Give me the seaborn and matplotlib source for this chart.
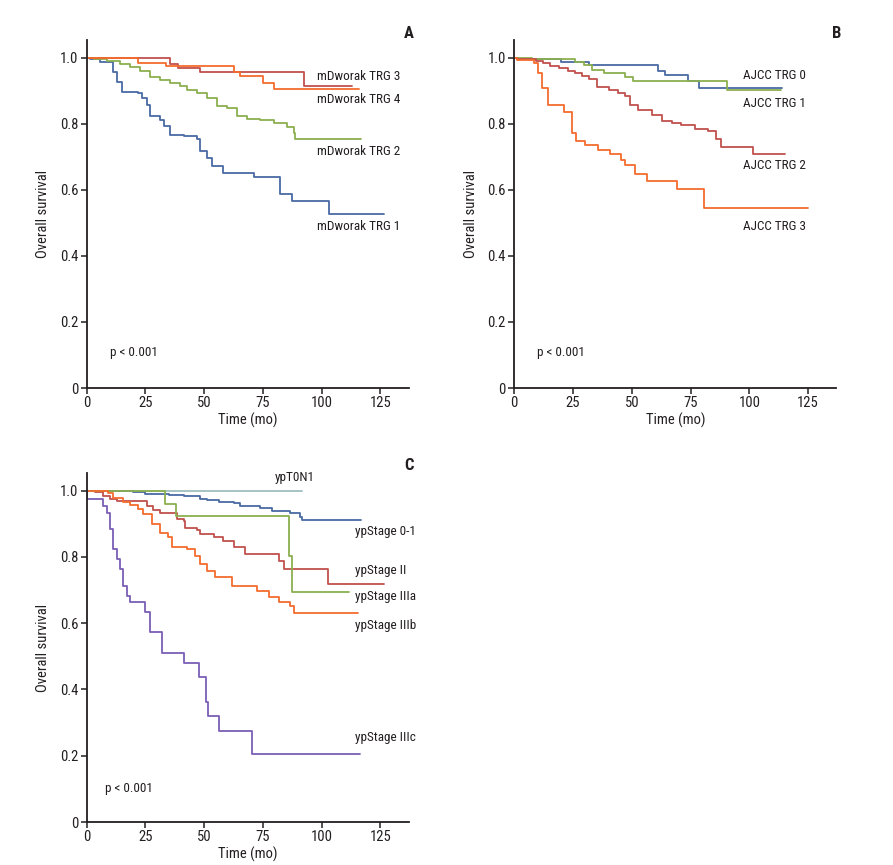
import pandas as pd
import seaborn as sns
import matplotlib.pyplot as plt

# panel A - modified Dworak TRG
a_trg1_t = [0, 1.4, 5.7, 11.4, 12.8, 14.9, 22.0, 23.4, 25.6, 27.0, 31.3, 32.7, 35.5, 41.2, 46.9, 48.3, 51.1, 53.3, 58.2, 71.0, 82.4, 87.4, 103.0, 126.7]
a_trg1_s = [1.0, 0.997, 0.987, 0.957, 0.927, 0.897, 0.892, 0.877, 0.857, 0.822, 0.812, 0.792, 0.767, 0.762, 0.752, 0.717, 0.697, 0.672, 0.652, 0.637, 0.587, 0.567, 0.527, 0.527]
a_trg2_t = [0, 3.0, 8.5, 14.2, 18.5, 22.7, 27.0, 31.3, 35.5, 39.8, 42.6, 46.9, 51.1, 55.4, 59.7, 63.9, 68.2, 73.9, 79.5, 85.2, 88.0, 88.8, 116.8]
a_trg2_s = [1.0, 0.997, 0.99, 0.98, 0.972, 0.96, 0.942, 0.932, 0.922, 0.914, 0.902, 0.894, 0.877, 0.854, 0.847, 0.822, 0.814, 0.81, 0.802, 0.79, 0.772, 0.754, 0.754]
a_trg3_t = [0, 35.5, 39.0, 48.3, 92.3, 112.9]
a_trg3_s = [1.0, 0.98, 0.967, 0.955, 0.915, 0.915]
a_trg4_t = [0, 22.0, 33.7, 62.5, 65.3, 75.0, 79.5, 115.8]
a_trg4_s = [1.0, 0.984, 0.974, 0.957, 0.944, 0.922, 0.905, 0.905]

# panel B - AJCC TRG
b_trg0_t = [0, 1.0, 19.7, 31.7, 61.3, 64.1, 73.7, 78.6, 114.0]
b_trg0_s = [1.0, 0.994, 0.985, 0.977, 0.96, 0.947, 0.93, 0.907, 0.907]
b_trg1_t = [0, 7.7, 26.0, 29.6, 33.0, 38.0, 47.2, 50.7, 90.6, 113.4]
b_trg1_s = [1.0, 0.994, 0.985, 0.977, 0.962, 0.952, 0.94, 0.93, 0.902, 0.902]
b_trg2_t = [0, 1.0, 9.2, 12.0, 15.0, 19.0, 23.0, 26.0, 29.0, 31.7, 35.2, 40.1, 44.0, 47.2, 49.3, 52.8, 58.5, 62.7, 67.0, 71.1, 76.8, 82.4, 85.9, 88.0, 101.4, 115.1]
b_trg2_s = [1.0, 0.994, 0.99, 0.982, 0.975, 0.967, 0.96, 0.952, 0.944, 0.934, 0.912, 0.902, 0.894, 0.884, 0.857, 0.842, 0.827, 0.807, 0.802, 0.797, 0.784, 0.777, 0.752, 0.73, 0.707, 0.707]
b_trg3_t = [0, 1.0, 8.5, 9.9, 11.7, 14.5, 21.1, 24.6, 26.3, 30.0, 35.6, 40.8, 45.5, 47.2, 51.4, 56.3, 69.4, 80.7, 124.9]
b_trg3_s = [1.0, 0.992, 0.982, 0.952, 0.907, 0.857, 0.834, 0.772, 0.747, 0.734, 0.72, 0.707, 0.69, 0.674, 0.647, 0.627, 0.602, 0.544, 0.544]

# panel C - ypStage
c_t0n1_t = [0, 91.6]
c_t0n1_s = [1.0, 1.0]
c_st01_t = [0, 19.9, 24.9, 35.0, 41.2, 48.3, 51.1, 56.1, 62.5, 65.3, 73.9, 78.8, 86.6, 90.9, 91.6, 116.8]
c_st01_s = [1.0, 0.996, 0.99, 0.986, 0.983, 0.975, 0.971, 0.966, 0.961, 0.953, 0.948, 0.938, 0.933, 0.921, 0.91, 0.91]
c_st2_t = [0, 3.6, 7.1, 9.9, 12.8, 25.6, 28.4, 31.3, 38.4, 41.2, 41.9, 46.9, 48.3, 54.0, 58.2, 62.5, 67.5, 81.7, 83.8, 102.6, 126.4]
c_st2_s = [1.0, 0.996, 0.985, 0.975, 0.968, 0.953, 0.941, 0.933, 0.915, 0.908, 0.888, 0.881, 0.868, 0.861, 0.848, 0.831, 0.808, 0.788, 0.763, 0.718, 0.718]
c_st3a_t = [0, 33.4, 38.1, 85.9, 87.4, 111.5]
c_st3a_s = [1.0, 0.96, 0.923, 0.803, 0.693, 0.693]
c_st3b_t = [0, 9.2, 11.4, 15.6, 18.5, 22.0, 24.1, 27.7, 31.3, 34.8, 36.2, 42.6, 46.2, 48.3, 51.1, 54.7, 61.8, 72.4, 77.4, 81.7, 86.6, 88.1, 115.3]
c_st3b_s = [1.0, 0.994, 0.978, 0.965, 0.955, 0.943, 0.928, 0.898, 0.873, 0.861, 0.831, 0.823, 0.803, 0.778, 0.758, 0.738, 0.713, 0.698, 0.678, 0.663, 0.653, 0.631, 0.631]
c_st3c_t = [0, 0.3, 7.1, 8.5, 9.9, 11.4, 12.8, 14.2, 15.3, 17.0, 18.5, 24.9, 27.0, 32.0, 41.2, 47.9, 50.9, 51.8, 56.1, 70.3, 116.2]
c_st3c_s = [1.0, 0.975, 0.953, 0.933, 0.883, 0.823, 0.793, 0.763, 0.713, 0.683, 0.663, 0.633, 0.573, 0.51, 0.48, 0.438, 0.363, 0.321, 0.276, 0.206, 0.206]

BLUE = "#4a6aa5"
GREEN = "#8bb04f"
BRICK = "#c0504d"
ORANGE = "#f36c2d"
PURPLE = "#7b5fb5"
TEAL = "#9ebfbf"
INK = "#231f20"

sns.set_style("ticks")
plt.rcParams['font.family'] = ['Roboto Condensed', 'Liberation Sans', 'DejaVu Sans']
plt.rcParams['axes.linewidth'] = 1.3
plt.rcParams['axes.edgecolor'] = INK
plt.rcParams['xtick.major.width'] = 1.1
plt.rcParams['ytick.major.width'] = 1.1
plt.rcParams['xtick.major.size'] = 4
plt.rcParams['ytick.major.size'] = 4


def make_df(curves):
    rows = []
    for name, t, s in curves:
        for ti, si in zip(t, s):
            rows.append([name, ti, si])
    return pd.DataFrame(rows, columns=["grupo", "tempo", "sobrevida"])


def draw_panel(ax, curves, palette, labels, p_pos):
    df = make_df(curves)
    sns.lineplot(data=df, x="tempo", y="sobrevida", hue="grupo", palette=palette,
                 estimator=None, sort=False, drawstyle="steps-post", linewidth=1.3,
                 legend=False, ax=ax)
    ax.set_xlim(0, 137)
    ax.set_ylim(0, 1.053)
    ax.set_xticks([0, 25, 50, 75, 100, 125])
    ax.set_yticks([0, 0.2, 0.4, 0.6, 0.8, 1.0])
    ax.set_yticklabels(["0", "0.2", "0.4", "0.6", "0.8", "1.0"])
    ax.tick_params(labelsize=10.5, colors=INK, pad=2)
    ax.set_xlabel("Time (mo)", fontsize=10.5, labelpad=2, color=INK)
    ax.set_ylabel("Overall survival", fontsize=10.5, labelpad=7, color=INK)
    sns.despine(ax=ax)
    for txt, x, y in labels:
        ax.text(x, y, txt, fontsize=9.5, va="center", ha="left", color=INK)
    ax.text(p_pos[0], p_pos[1], "p < 0.001", fontsize=9.5, va="center", ha="left", color=INK)


W, H = 893, 865
fig = plt.figure(figsize=(W / 100, H / 100), dpi=100)
ax_a = fig.add_axes([86.7 / W, 1 - 388 / H, 322 / W, 348 / H])
ax_b = fig.add_axes([514.3 / W, 1 - 388 / H, 322 / W, 348 / H])
ax_c = fig.add_axes([86.7 / W, 1 - 822 / H, 322 / W, 349 / H])

draw_panel(ax_a,
           [("mDworak TRG 1", a_trg1_t, a_trg1_s), ("mDworak TRG 2", a_trg2_t, a_trg2_s),
            ("mDworak TRG 3", a_trg3_t, a_trg3_s), ("mDworak TRG 4", a_trg4_t, a_trg4_s)],
           [BLUE, GREEN, BRICK, ORANGE],
           [("mDworak TRG 3", 98, 0.944), ("mDworak TRG 4", 98, 0.872),
            ("mDworak TRG 2", 98, 0.717), ("mDworak TRG 1", 98, 0.488)],
           (9.9, 0.107))

draw_panel(ax_b,
           [("AJCC TRG 0", b_trg0_t, b_trg0_s), ("AJCC TRG 1", b_trg1_t, b_trg1_s),
            ("AJCC TRG 2", b_trg2_t, b_trg2_s), ("AJCC TRG 3", b_trg3_t, b_trg3_s)],
           [BLUE, GREEN, BRICK, ORANGE],
           [("AJCC TRG 0", 97.4, 0.947), ("AJCC TRG 1", 97.4, 0.862),
            ("AJCC TRG 2", 97.4, 0.672), ("AJCC TRG 3", 97.4, 0.49)],
           (9.8, 0.107))

draw_panel(ax_c,
           [("ypT0N1", c_t0n1_t, c_t0n1_s), ("ypStage 0-1", c_st01_t, c_st01_s),
            ("ypStage II", c_st2_t, c_st2_s), ("ypStage IIIa", c_st3a_t, c_st3a_s),
            ("ypStage IIIb", c_st3b_t, c_st3b_s), ("ypStage IIIc", c_st3c_t, c_st3c_s)],
           [TEAL, BLUE, BRICK, GREEN, ORANGE, PURPLE],
           [("ypT0N1", 80, 1.04), ("ypStage 0-1", 114, 0.878), ("ypStage II", 114, 0.76),
            ("ypStage IIIa", 114, 0.679), ("ypStage IIIb", 114, 0.593),
            ("ypStage IIIc", 114, 0.256)],
           (7.7, 0.10))

for letra, x, y in [("A", 409, 33), ("B", 837, 33), ("C", 409, 466)]:
    fig.text(x / W, 1 - y / H, letra, fontsize=12, fontweight="bold", ha="center", va="center",
             color=INK)

fig.savefig("out.png", dpi=100)
